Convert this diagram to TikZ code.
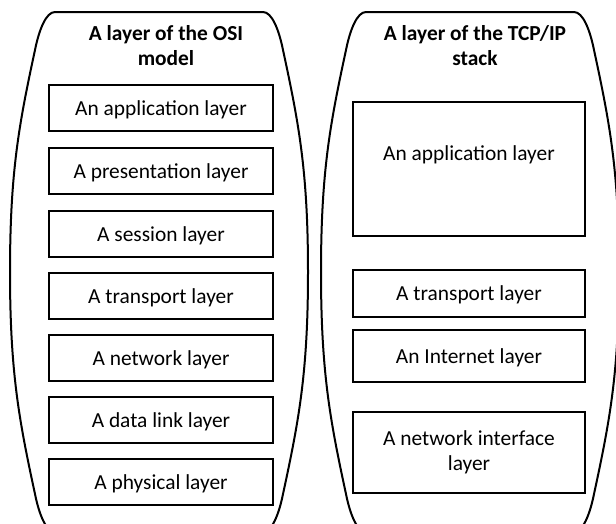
\documentclass[tikz,border=0pt]{standalone}
\usepackage{fontspec}
\setmainfont{Carlito}
\begin{document}
\begin{tikzpicture}[x=1pt,y=-1pt,
  outline/.style={line width=2pt,black},
  layerbox/.style={draw=black,line width=1.6pt,rectangle,inner sep=2pt,align=center,font=\fontsize{21.4}{25}\selectfont},
  oneline/.style={text height=20.4pt,text depth=5.8pt},
  txt/.style={inner sep=0pt,align=center,font=\fontsize{21.4}{25}\selectfont},
  head/.style={inner sep=0pt,align=center,font=\fontsize{21.4}{25}\selectfont\bfseries},
  capsule/.pic={
    \draw[outline] (-104,12) -- (104,12)
      .. controls (113,12) and (120,30) .. (124,50)
      .. controls (140,124) and (149,172) .. (149,272)
      .. controls (149,372) and (140,420) .. (124,494)
      .. controls (120,514) and (113,532) .. (104,532)
      -- (-104,532)
      .. controls (-113,532) and (-120,514) .. (-124,494)
      .. controls (-140,420) and (-149,372) .. (-149,272)
      .. controls (-149,172) and (-140,124) .. (-124,50)
      .. controls (-120,30) and (-113,12) .. (-104,12) -- cycle;
  }]
\useasboundingbox (0,0) rectangle (616,523);
\begin{scope}
  \clip (0,0) rectangle (616,523);
  \pic (osishape) at (159,0) {capsule};
  \pic (tcpshape) at (470,0) {capsule};
\end{scope}
% headers
\node[head] (osihead) at (166,45.5) {A layer of the OSI\\model};
\node[head] (tcphead) at (475,45.5) {A layer of the TCP/IP\\stack};
% OSI layers
\node[layerbox,oneline,minimum width=224,minimum height=46] (o1) at (161,108) {An application layer};
\node[layerbox,oneline,minimum width=224,minimum height=46] (o2) at (161,171) {A presentation layer};
\node[layerbox,oneline,minimum width=224,minimum height=46] (o3) at (161,234) {A session layer};
\node[layerbox,oneline,minimum width=224,minimum height=46] (o4) at (161,296) {A transport layer};
\node[layerbox,oneline,minimum width=224,minimum height=46] (o5) at (161,358) {A network layer};
\node[layerbox,oneline,minimum width=224,minimum height=46] (o6) at (161,420) {A data link layer};
\node[layerbox,oneline,minimum width=224,minimum height=46] (o7) at (161,482) {A physical layer};
% TCP/IP layers
\node[layerbox,minimum width=232,minimum height=134] (t1) at (469,169) {};
\node[txt,oneline] (t1text) at (469,153) {An application layer};
\node[layerbox,oneline,minimum width=232,minimum height=47] (t2) at (469,293.5) {A transport layer};
\node[layerbox,oneline,minimum width=232,minimum height=52] (t3) at (469,356) {An Internet layer};
\node[layerbox,minimum width=232,minimum height=81] (t4) at (469,452.5) {A network interface\\layer};
\end{tikzpicture}
\end{document}
